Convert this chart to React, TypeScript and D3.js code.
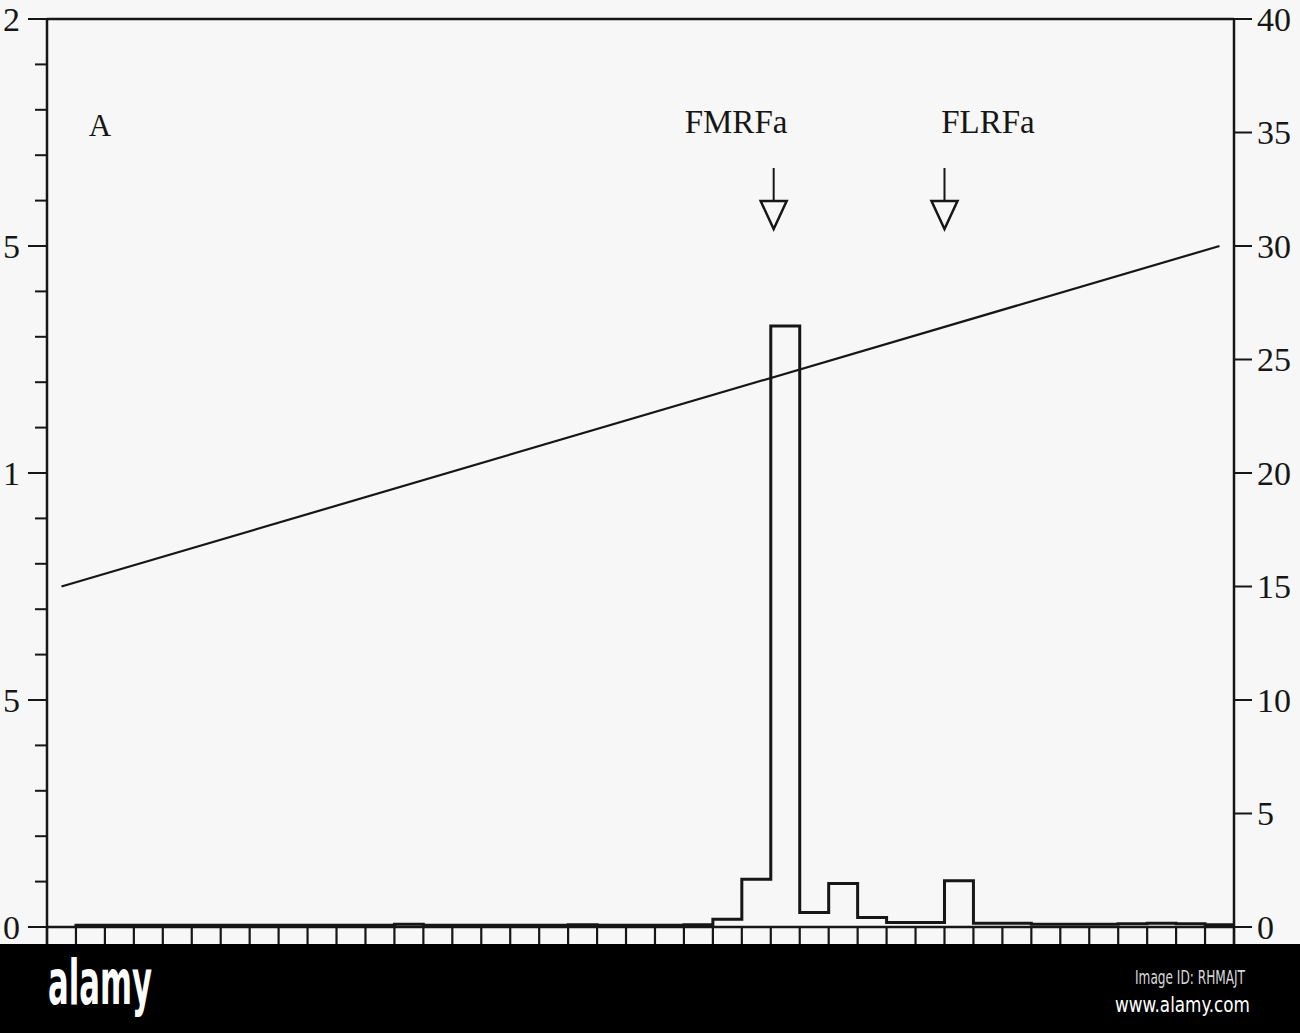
import React from "react";
import * as d3 from "d3";

// Absorbance per fraction (fractions 1..40), left axis
const absorbance = [
  0.004, 0.004, 0.004, 0.004, 0.004, 0.004, 0.004, 0.004, 0.004, 0.004,
  0.004, 0.006, 0.004, 0.004, 0.004, 0.004, 0.004, 0.005, 0.004, 0.004,
  0.004, 0.005, 0.017, 0.105, 1.324, 0.032, 0.096, 0.021, 0.01, 0.01,
  0.102, 0.008, 0.008, 0.006, 0.006, 0.006, 0.007, 0.008, 0.007, 0.005,
];
const firstFraction = 1;

// Gradient line (right axis, %)
const gradientFraction = [0.5, 40.5];
const gradientPercent = [15, 30];

const leftMajorTicks = [0, 0.5, 1, 1.5, 2];
// tick labels as visible in the (left-cropped) picture
const leftTickLabels = ["0", "5", "1", "5", "2"];
const leftMinorTicks = [0.1, 0.2, 0.3, 0.4, 0.6, 0.7, 0.8, 0.9, 1.1, 1.2, 1.3, 1.4, 1.6, 1.7, 1.8, 1.9];
const rightTicks = [0, 5, 10, 15, 20, 25, 30, 35, 40];
const fractionTicks = [0, 1, 2, 3, 4, 5, 6, 7, 8, 9, 10, 11, 12, 13, 14, 15, 16, 17, 18, 19, 20,
  21, 22, 23, 24, 25, 26, 27, 28, 29, 30, 31, 32, 33, 34, 35, 36, 37, 38, 39, 40, 41];

const markerNames = ["FMRFa", "FLRFa"];
const markerArrowFraction = [25.1, 31.0];
const markerLabelFraction = [23.8, 32.5];
const panelLabel = "A";

export default function App() {
  const W = 1300, H = 1033;
  const x = d3.scaleLinear().domain([0, 41]).range([47, 1234]);
  const yL = d3.scaleLinear().domain([0, 2]).range([927, 19]);
  const yR = d3.scaleLinear().domain([0, 40]).range([927, 19]);
  const ink = "#161616";
  const bg = "#f7f7f7";
  const serif = "'Liberation Serif', 'Times New Roman', serif";

  const pts: [number, number][] = [[x(firstFraction), yL(0)]];
  absorbance.forEach((v, i) => {
    const f = firstFraction + i;
    pts.push([x(f), yL(v)]);
    pts.push([x(f + 1), yL(v)]);
  });
  const histPath = d3.line()(pts) || "";

  const gradPath =
    d3.line<number>()
      .x((_, i) => x(gradientFraction[i]))
      .y((d) => yR(d))(gradientPercent) || "";

  return (
    <svg
      width={W}
      height={H}
      style={{ position: "absolute", left: 0, top: 0, background: bg }}
    >
      <rect x={0} y={0} width={W} height={H} fill={bg} />
      {/* frame */}
      <line x1={x(0)} x2={x(41)} y1={yL(2)} y2={yL(2)} stroke={ink} strokeWidth={2.5} />
      <line x1={x(0)} x2={x(0)} y1={yL(2)} y2={945} stroke={ink} strokeWidth={2.5} />
      <line x1={x(41)} x2={x(41)} y1={yR(40)} y2={945} stroke={ink} strokeWidth={2.5} />
      <line x1={x(0)} x2={x(41)} y1={yL(0)} y2={yL(0)} stroke={ink} strokeWidth={2.5} />

      {/* left axis */}
      {leftMajorTicks.map((t, i) => (
        <g key={"lm" + t}>
          <line x1={x(0) - 19} x2={x(0)} y1={yL(t)} y2={yL(t)} stroke={ink} strokeWidth={2} />
          <text x={20} y={yL(t)} dy="0.35em" textAnchor="end" fontFamily={serif} fontSize={34} fill={ink}>
            {leftTickLabels[i]}
          </text>
        </g>
      ))}
      {leftMinorTicks.map((t) => (
        <line key={"ln" + t} x1={x(0) - 12} x2={x(0)} y1={yL(t)} y2={yL(t)} stroke={ink} strokeWidth={2} />
      ))}

      {/* right axis */}
      {rightTicks.map((t) => (
        <g key={"r" + t}>
          <line x1={x(41)} x2={x(41) + 18} y1={yR(t)} y2={yR(t)} stroke={ink} strokeWidth={2} />
          <text x={1257} y={yR(t)} dy="0.35em" textAnchor="start" fontFamily={serif} fontSize={34} fill={ink}>
            {t}
          </text>
        </g>
      ))}

      {/* bottom fraction ticks */}
      {fractionTicks.map((t) => (
        <line key={"b" + t} x1={x(t)} x2={x(t)} y1={yL(0)} y2={945} stroke={ink} strokeWidth={2.2} />
      ))}

      {/* histogram */}
      <path d={histPath} fill="none" stroke={ink} strokeWidth={3} strokeLinejoin="miter" />

      {/* gradient line */}
      <path d={gradPath} fill="none" stroke={ink} strokeWidth={2.2} />

      {/* panel label */}
      <text x={100} y={136} textAnchor="middle" fontFamily={serif} fontSize={31} fill={ink}>
        {panelLabel}
      </text>

      {/* marker annotations */}
      {markerNames.map((name, i) => {
        const ax = x(markerArrowFraction[i]);
        return (
          <g key={name}>
            <text x={x(markerLabelFraction[i])} y={133} textAnchor="middle" fontFamily={serif} fontSize={33} fill={ink}>
              {name}
            </text>
            <line x1={ax} x2={ax} y1={168} y2={201} stroke={ink} strokeWidth={2} />
            <path
              d={`M${ax - 13},201 L${ax + 13},201 L${ax},229 Z`}
              fill={bg}
              stroke={ink}
              strokeWidth={2.5}
              strokeLinejoin="miter"
            />
          </g>
        );
      })}

      {/* watermark banner */}
      <rect x={0} y={944} width={W} height={H - 944} fill="#000" />
      <text
        x={48}
        y={1004}
        fontFamily="'DejaVu Sans Condensed', 'DejaVu Sans', sans-serif"
        fontWeight="bold"
        fontSize={62}
        fill="#fff"
        textLength={104}
        lengthAdjust="spacingAndGlyphs"
      >
        alamy
      </text>
      <text
        x={1245}
        y={984}
        textAnchor="end"
        fontFamily="'DejaVu Sans Condensed', 'DejaVu Sans', sans-serif"
        fontSize={19}
        fill="#d8d8d8"
        textLength={110}
        lengthAdjust="spacingAndGlyphs"
      >
        Image ID: RHMAJT
      </text>
      <text
        x={1250}
        y={1012}
        textAnchor="end"
        fontFamily="'DejaVu Sans Condensed', 'DejaVu Sans', sans-serif"
        fontSize={22}
        fill="#fff"
        textLength={135}
        lengthAdjust="spacingAndGlyphs"
      >
        www.alamy.com
      </text>
    </svg>
  );
}
